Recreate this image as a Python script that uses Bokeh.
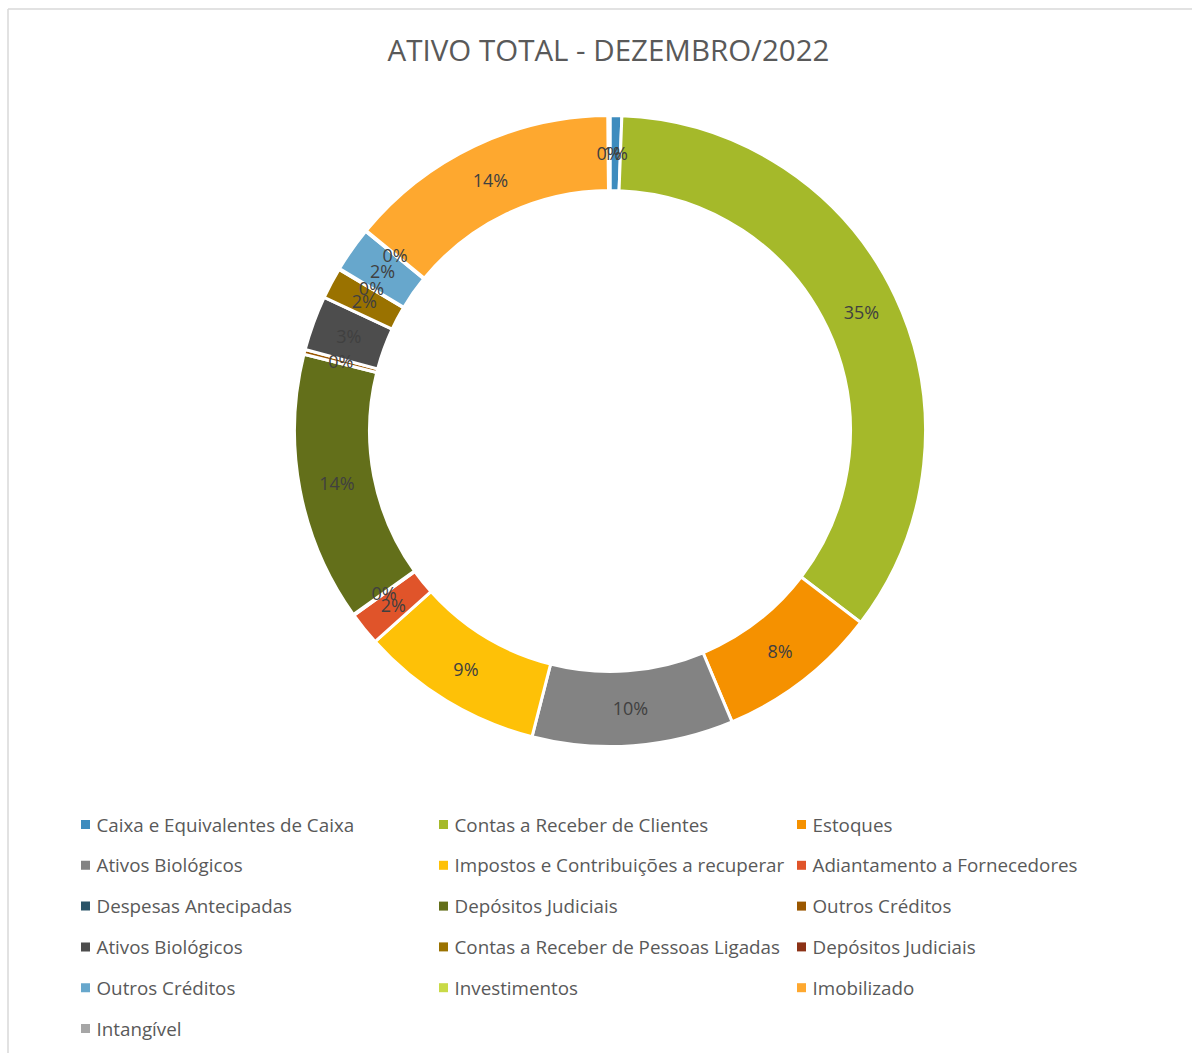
import math
from bokeh.plotting import figure
from bokeh.models import ColumnDataSource, Range1d
from bokeh.core.properties import value
from bokeh.embed import file_html
from bokeh.resources import INLINE

# ---- data ----
title_text = "ATIVO TOTAL - DEZEMBRO/2022"
categories = [
    "Caixa e Equivalentes de Caixa",
    "Contas a Receber de Clientes",
    "Estoques",
    "Ativos Biológicos",
    "Impostos e Contribuições a recuperar",
    "Adiantamento a Fornecedores",
    "Despesas Antecipadas",
    "Depósitos Judiciais",
    "Outros Créditos",
    "Ativos Biológicos",
    "Contas a Receber de Pessoas Ligadas",
    "Depósitos Judiciais",
    "Outros Créditos",
    "Investimentos",
    "Imobilizado",
    "Intangível",
]
values = [0.6, 34.8, 8.3, 10.3, 9.4, 1.7, 0.05, 13.8, 0.25, 2.8, 1.6, 0.05, 2.3, 0.05, 13.95, 0.1]
colors = [
    "#3E8CBE", "#A5B92A", "#F59100", "#838383", "#FEC107", "#E0542A",
    "#2B5468", "#636F1A", "#9A5700", "#4D4D4D", "#9A7200", "#8C3216",
    "#67A7CC", "#C9DA47", "#FEA82F", "#A6A6A6",
]

# ---- layout constants ----
W, H = 1192, 1053
cx, cy = 609.5, H - 430.5
r_out, r_in = 315.5, 240.5
r_lab = (r_out + r_in) / 2

total = sum(values)
starts, ends, lx, ly, labels = [], [], [], [], []
acc = 0.0
for v in values:
    a0 = acc / total * 2 * math.pi
    acc += v
    a1 = acc / total * 2 * math.pi
    # clockwise from 12 o'clock -> bokeh anticlockwise from +x
    starts.append(math.pi / 2 - a1)
    ends.append(math.pi / 2 - a0)
    mid = (a0 + a1) / 2
    lx.append(cx + r_lab * math.sin(mid))
    ly.append(cy + r_lab * math.cos(mid))
    labels.append(f"{int(v / total * 100 + 0.5)}%")

src = ColumnDataSource(dict(start=starts, end=ends, color=colors, name=categories,
                            lx=lx, ly=ly, label=labels))

p = figure(width=W, height=H, output_backend="svg", toolbar_location=None,
           x_range=Range1d(0, W), y_range=Range1d(0, H), min_border=0,
           match_aspect=False)
p.axis.visible = False
p.grid.visible = False
p.outline_line_color = None
p.background_fill_color = "white"
p.border_fill_color = "white"

# chart border (partial, as in reference)
p.segment(x0=[7.5, 7.5], y0=[H - 8.5, H - 8.5], x1=[W + 5, 7.5], y1=[H - 8.5, -5],
          line_color="#D9D9D9", line_width=1.5)

p.annular_wedge(x=cx, y=cy, inner_radius=r_in, outer_radius=r_out,
                start_angle="start", end_angle="end", direction="anticlock",
                fill_color="color", line_color="white", line_width=3, source=src)

p.text(x="lx", y="ly", text="label", source=src, text_align="center",
       text_baseline="middle", text_font=value("Open Sans"),
       text_font_size="18px", text_color="#404040")

p.text(x=[608], y=[H - 49], text=[title_text], text_align="center",
       text_baseline="middle", text_font=value("Open Sans"),
       text_font_size="29.5px", text_color="#595959")

# legend (3 columns, row-major)
col_x = [85, 443, 801]
row_y0, row_dy = 824, 40.8
mx, my, tx, ty = [], [], [], []
for i in range(len(categories)):
    r, c = divmod(i, 3)
    yy = H - (row_y0 + r * row_dy)
    mx.append(col_x[c]); my.append(yy)
    tx.append(col_x[c] + 11); ty.append(yy)
leg = ColumnDataSource(dict(mx=mx, my=my, tx=tx, ty=ty, name=categories, color=colors))
p.rect(x="mx", y="my", width=9, height=9, fill_color="color", line_color=None, source=leg)
p.text(x="tx", y="ty", text="name", source=leg, text_align="left",
       text_baseline="middle", text_font=value("Open Sans"),
       text_font_size="18.8px", text_color="#595959")

open("out.html", "w").write(file_html(p, INLINE))
